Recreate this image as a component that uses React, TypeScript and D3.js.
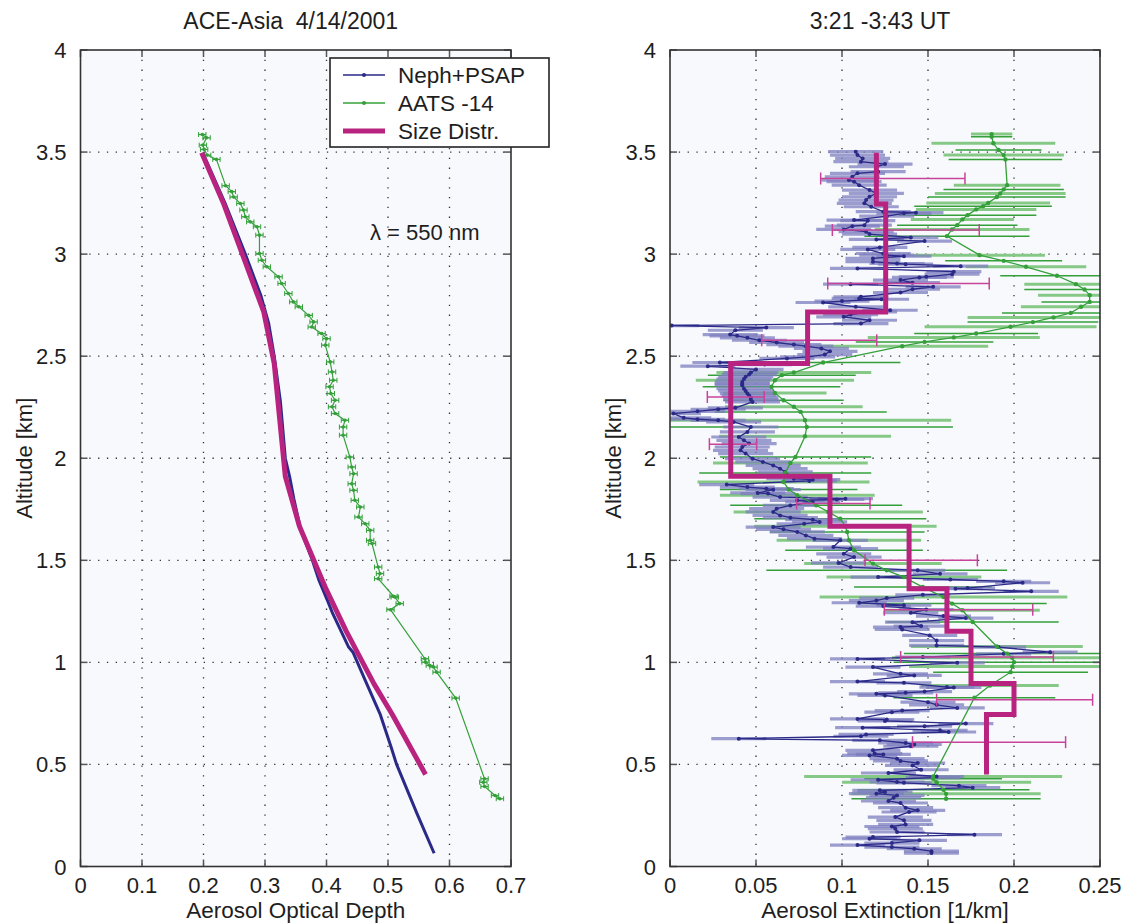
import React from "react";
import * as d3 from "d3";

// ---------- text ----------
const titleLeft = "ACE-Asia  4/14/2001";
const titleRight = "3:21 -3:43 UT";
const xLabelLeft = "Aerosol Optical Depth";
const xLabelRight = "Aerosol Extinction [1/km]";
const yLabel = "Altitude [km]";
const legendNames = ["Neph+PSAP", "AATS -14", "Size Distr."];
const wavelengthNote = "λ = 550 nm";

// ---------- ticks ----------
const aodTicks = [0, 0.1, 0.2, 0.3, 0.4, 0.5, 0.6, 0.7];
const extTicks = [0, 0.05, 0.1, 0.15, 0.2, 0.25];
const altTicks = [0, 0.5, 1, 1.5, 2, 2.5, 3, 3.5, 4];

// ---------- left panel: [altitude km, AOD] ----------
const nephAod: [number, number][] = [
  [3.495, 0.199], [3.25, 0.235], [3.0, 0.268], [2.8, 0.293], [2.66, 0.306], [2.5, 0.315],
  [2.28, 0.325], [2.0, 0.333], [1.91, 0.340], [1.8, 0.347], [1.65, 0.358], [1.5, 0.377],
  [1.4, 0.388], [1.3, 0.402], [1.24, 0.41], [1.075, 0.436], [1.05, 0.443], [0.912, 0.463],
  [0.748, 0.487], [0.585, 0.505], [0.5, 0.514], [0.26, 0.547], [0.065, 0.575],
];
const aatsAod: [number, number][] = [
  [3.586, 0.198], [3.57, 0.205], [3.534, 0.199], [3.513, 0.201], [3.485, 0.206], [3.464, 0.221],
  [3.335, 0.236], [3.306, 0.246], [3.28, 0.249], [3.248, 0.26], [3.216, 0.265], [3.183, 0.268],
  [3.158, 0.276], [3.134, 0.287], [3.093, 0.291], [3.003, 0.291], [2.97, 0.295], [2.938, 0.303],
  [2.889, 0.322], [2.856, 0.327], [2.807, 0.338], [2.766, 0.346], [2.742, 0.355], [2.7, 0.371],
  [2.668, 0.379], [2.643, 0.376], [2.611, 0.392], [2.586, 0.4], [2.554, 0.398], [2.472, 0.406],
  [2.423, 0.409], [2.382, 0.411], [2.35, 0.405], [2.317, 0.407], [2.284, 0.414], [2.252, 0.409],
  [2.219, 0.414], [2.186, 0.43], [2.153, 0.427], [2.113, 0.427], [2.006, 0.438], [1.957, 0.441],
  [1.924, 0.444], [1.875, 0.441], [1.843, 0.444], [1.794, 0.446], [1.761, 0.455], [1.712, 0.452],
  [1.679, 0.463], [1.647, 0.471], [1.598, 0.471], [1.582, 0.474], [1.467, 0.484], [1.435, 0.487],
  [1.41, 0.484], [1.324, 0.509], [1.32, 0.511], [1.288, 0.519], [1.258, 0.504], [1.018, 0.56],
  [1.001, 0.561], [0.985, 0.568], [0.977, 0.574], [0.952, 0.579], [0.825, 0.61], [0.43, 0.657],
  [0.413, 0.655], [0.392, 0.657], [0.348, 0.674], [0.332, 0.682],
];
const aatsAodErr = 0.006;
const sizeAod: [number, number][] = [
  [3.497, 0.197], [3.245, 0.233], [2.717, 0.298], [2.464, 0.315], [1.912, 0.333], [1.667, 0.356],
  [1.361, 0.399], [1.153, 0.432], [0.896, 0.477], [0.745, 0.507], [0.451, 0.561],
];

// ---------- right panel: [altitude km, extinction 1/km] ----------
const nephExt: [number, number][] = [
  [3.502, 0.108], [3.485, 0.109], [3.469, 0.112], [3.453, 0.111], [3.441, 0.125], [3.428, 0.12],
  [3.404, 0.121], [3.396, 0.109], [3.379, 0.106], [3.363, 0.104], [3.355, 0.107], [3.338, 0.11],
  [3.314, 0.116], [3.298, 0.12], [3.281, 0.116], [3.265, 0.114], [3.249, 0.113], [3.232, 0.117],
  [3.208, 0.124], [3.203, 0.143], [3.2, 0.136], [3.186, 0.126], [3.167, 0.107], [3.164, 0.115],
  [3.142, 0.113], [3.137, 0.106], [3.121, 0.101], [3.11, 0.114], [3.098, 0.116], [3.082, 0.14],
  [3.072, 0.12], [3.064, 0.148], [3.033, 0.122], [3.023, 0.115], [3.003, 0.124], [2.995, 0.126],
  [2.99, 0.136], [2.979, 0.118], [2.963, 0.118], [2.954, 0.132], [2.951, 0.137], [2.941, 0.169],
  [2.93, 0.109], [2.914, 0.165], [2.902, 0.164], [2.889, 0.149], [2.886, 0.145], [2.873, 0.134],
  [2.86, 0.141], [2.853, 0.105], [2.84, 0.153], [2.828, 0.141], [2.812, 0.134], [2.791, 0.111],
  [2.783, 0.11], [2.779, 0.123], [2.77, 0.1], [2.763, 0.089], [2.742, 0.108], [2.725, 0.128],
  [2.717, 0.116], [2.704, 0.105], [2.693, 0.101], [2.676, 0.116], [2.66, 0.111], [2.65, 0.001],
  [2.64, 0.056], [2.627, 0.038], [2.606, 0.035], [2.6, 0.039], [2.59, 0.045], [2.578, 0.052],
  [2.567, 0.062], [2.557, 0.072], [2.549, 0.079], [2.538, 0.088], [2.524, 0.093], [2.508, 0.09],
  [2.497, 0.08], [2.489, 0.068], [2.469, 0.029], [2.459, 0.055], [2.451, 0.022], [2.435, 0.05],
  [2.42, 0.047], [2.41, 0.046], [2.399, 0.044], [2.388, 0.043], [2.374, 0.042], [2.365, 0.042],
  [2.358, 0.042], [2.341, 0.043], [2.33, 0.044], [2.317, 0.045], [2.307, 0.046], [2.296, 0.047],
  [2.286, 0.047], [2.276, 0.048], [2.247, 0.038], [2.24, 0.028], [2.23, 0.016], [2.219, 0.002],
  [2.198, 0.008], [2.191, 0.016], [2.186, 0.028], [2.178, 0.037], [2.153, 0.047], [2.129, 0.045],
  [2.104, 0.04], [2.088, 0.043], [2.072, 0.046], [2.055, 0.042], [2.039, 0.041], [2.023, 0.044],
  [1.998, 0.048], [1.982, 0.054], [1.965, 0.06], [1.949, 0.064], [1.933, 0.067], [1.9, 0.072],
  [1.895, 0.083], [1.889, 0.081], [1.871, 0.033], [1.859, 0.045], [1.851, 0.056], [1.846, 0.06],
  [1.83, 0.051], [1.827, 0.057], [1.81, 0.064], [1.802, 0.102], [1.798, 0.097], [1.794, 0.074],
  [1.786, 0.083], [1.769, 0.07], [1.753, 0.062], [1.737, 0.06], [1.72, 0.064], [1.709, 0.07],
  [1.699, 0.083], [1.688, 0.087], [1.679, 0.078], [1.663, 0.06], [1.652, 0.066], [1.639, 0.074],
  [1.622, 0.079], [1.606, 0.084], [1.598, 0.099], [1.565, 0.095], [1.557, 0.105], [1.532, 0.101],
  [1.516, 0.107], [1.487, 0.098], [1.467, 0.105], [1.451, 0.144], [1.434, 0.157], [1.418, 0.121],
  [1.406, 0.163], [1.397, 0.194], [1.39, 0.205], [1.364, 0.173], [1.361, 0.166], [1.348, 0.21],
  [1.331, 0.147], [1.315, 0.126], [1.303, 0.12], [1.292, 0.11], [1.28, 0.136], [1.276, 0.124],
  [1.259, 0.149], [1.243, 0.14], [1.227, 0.159], [1.217, 0.172], [1.197, 0.141], [1.178, 0.146],
  [1.173, 0.134], [1.161, 0.135], [1.132, 0.151], [1.107, 0.155], [1.083, 0.155], [1.075, 0.191],
  [1.05, 0.221], [1.042, 0.194], [1.026, 0.147], [1.017, 0.109], [0.998, 0.167], [0.977, 0.118],
  [0.944, 0.134], [0.936, 0.142], [0.906, 0.109], [0.9, 0.136], [0.879, 0.161], [0.877, 0.165],
  [0.857, 0.148], [0.851, 0.137], [0.846, 0.12], [0.838, 0.125], [0.805, 0.15], [0.792, 0.155],
  [0.777, 0.167], [0.764, 0.135], [0.756, 0.129], [0.723, 0.109], [0.72, 0.126], [0.713, 0.125],
  [0.7, 0.172], [0.687, 0.148], [0.68, 0.112], [0.667, 0.157], [0.659, 0.162], [0.647, 0.114],
  [0.638, 0.111], [0.626, 0.04], [0.618, 0.122], [0.605, 0.137], [0.598, 0.142], [0.589, 0.14],
  [0.569, 0.118], [0.553, 0.119], [0.549, 0.124], [0.544, 0.116], [0.528, 0.132], [0.517, 0.134],
  [0.507, 0.144], [0.495, 0.141], [0.474, 0.146], [0.458, 0.127], [0.441, 0.155], [0.435, 0.153],
  [0.425, 0.121], [0.414, 0.132], [0.41, 0.136], [0.396, 0.168], [0.386, 0.176], [0.373, 0.122],
  [0.365, 0.125], [0.357, 0.12], [0.348, 0.132], [0.337, 0.13], [0.321, 0.127], [0.311, 0.134],
  [0.288, 0.137], [0.275, 0.144], [0.267, 0.139], [0.242, 0.131], [0.226, 0.136], [0.206, 0.137],
  [0.196, 0.129], [0.185, 0.131], [0.169, 0.132], [0.156, 0.177], [0.144, 0.118], [0.136, 0.116],
  [0.128, 0.145], [0.115, 0.129], [0.105, 0.109], [0.095, 0.129], [0.087, 0.142], [0.075, 0.152],
  [0.066, 0.152],
];
const nephExtErr = 0.016;

// [altitude km, extinction, error half-width]
const aatsExt: [number, number, number][] = [
  [3.588, 0.187, 0.012], [3.575, 0.187, 0.012], [3.543, 0.188, 0.036], [3.51, 0.191, 0.025],
  [3.485, 0.194, 0.035], [3.464, 0.195, 0.033], [3.338, 0.196, 0.031], [3.317, 0.194, 0.035],
  [3.297, 0.192, 0.038], [3.28, 0.19, 0.04], [3.251, 0.185, 0.036], [3.235, 0.182, 0.04],
  [3.219, 0.178, 0.035], [3.191, 0.173, 0.04], [3.17, 0.17, 0.03], [3.142, 0.167, 0.035],
  [3.121, 0.164, 0.045], [3.088, 0.161, 0.048], [2.995, 0.18, 0.038], [2.967, 0.194, 0.034],
  [2.938, 0.207, 0.035], [2.894, 0.225, 0.033], [2.853, 0.236, 0.03], [2.827, 0.241, 0.035],
  [2.799, 0.244, 0.03], [2.766, 0.244, 0.028], [2.742, 0.239, 0.035], [2.712, 0.233, 0.04],
  [2.69, 0.223, 0.05], [2.667, 0.211, 0.038], [2.644, 0.198, 0.05], [2.611, 0.178, 0.036],
  [2.592, 0.165, 0.05], [2.57, 0.148, 0.04], [2.549, 0.135, 0.05], [2.469, 0.089, 0.045],
  [2.42, 0.072, 0.045], [2.407, 0.065, 0.043], [2.382, 0.061, 0.046], [2.35, 0.059, 0.04],
  [2.32, 0.061, 0.03], [2.284, 0.066, 0.035], [2.252, 0.072, 0.04], [2.227, 0.076, 0.05],
  [2.186, 0.0785, 0.085], [2.153, 0.0795, 0.085], [2.108, 0.0785, 0.05], [2.006, 0.073, 0.044],
  [1.977, 0.07, 0.045], [1.928, 0.067, 0.05], [1.884, 0.066, 0.05], [1.847, 0.069, 0.04],
  [1.819, 0.074, 0.045], [1.77, 0.085, 0.05], [1.737, 0.092, 0.055], [1.704, 0.099, 0.05],
  [1.667, 0.102, 0.053], [1.639, 0.103, 0.045], [1.598, 0.104, 0.042], [1.549, 0.107, 0.04],
  [1.484, 0.118, 0.04], [1.451, 0.126, 0.07], [1.418, 0.136, 0.045], [1.369, 0.147, 0.04],
  [1.32, 0.159, 0.072], [1.288, 0.164, 0.055], [1.255, 0.17, 0.045], [1.198, 0.176, 0.05],
  [1.078, 0.19, 0.05], [1.043, 0.196, 0.06], [1.023, 0.199, 0.07], [1.001, 0.2, 0.07],
  [0.98, 0.199, 0.06], [0.952, 0.198, 0.045], [0.887, 0.186, 0.04], [0.827, 0.177, 0.047],
  [0.441, 0.153, 0.075], [0.43, 0.153, 0.04], [0.413, 0.155, 0.055], [0.376, 0.159, 0.05],
  [0.356, 0.1605, 0.055], [0.332, 0.1605, 0.055],
];

// size distribution layers: boundaries (km, top to bottom) and extinction per layer
const sizeLayerBounds = [3.497, 3.245, 2.717, 2.464, 1.912, 1.667, 1.361, 1.153, 0.896, 0.745, 0.451];
const sizeLayerExt = [0.12, 0.1254, 0.08, 0.0353, 0.093, 0.139, 0.161, 0.175, 0.2, 0.184];
// [altitude, low, high]
const sizeErrBars: [number, number, number][] = [
  [3.371, 0.0876, 0.1715], [3.118, 0.0944, 0.1798], [2.856, 0.0917, 0.1856], [2.578, 0.0533, 0.1202],
  [2.3, 0.0217, 0.0548], [2.069, 0.0229, 0.0504], [1.778, 0.0736, 0.1163], [1.5, 0.1134, 0.1787],
  [1.258, 0.1246, 0.2109], [1.026, 0.1341, 0.2229], [0.817, 0.155, 0.2457], [0.609, 0.141, 0.23],
];

// ---------- styling ----------
const W = 1125;
const H = 924;
const FONT = "'Liberation Sans', Arial, Helvetica, sans-serif";
const NAVY = "#2b2a88";
const LAVENDER = "#7d7dbf";
const GREEN = "#35a03a";
const LIGHTGREEN = "#86c986";
const MAGENTA = "#b8237f";
const MAGENTA_ERR = "#c8439a";
const PLOT_BG = "#f8f9fd";
const TEXT = "#1e1e1e";
const TOP = 50;
const BOTTOM = 866.5;

const yScale = d3.scaleLinear().domain([0, 4]).range([BOTTOM, TOP]);
const xL = d3.scaleLinear().domain([0, 0.7]).range([80.5, 511]);
const xR = d3.scaleLinear().domain([0, 0.25]).range([670, 1100]);

const fmt = (v: number) => String(v);

function Frame({ x, ticks, title, xLabel }: { x: d3.ScaleLinear<number, number>; ticks: number[]; title: string; xLabel: string }) {
  const [x0, x1] = x.range();
  const cx = (x0 + x1) / 2;
  return (
    <g>
      <rect x={x0} y={TOP} width={x1 - x0} height={BOTTOM - TOP} fill={PLOT_BG} />
      {ticks.slice(1, -1).map((t) => (
        <line key={"gx" + t} x1={x(t)} x2={x(t)} y1={TOP} y2={BOTTOM} stroke="#333" strokeWidth={1.3} strokeDasharray="1.3 8.5" />
      ))}
      {altTicks.slice(1, -1).map((t) => (
        <line key={"gy" + t} x1={x0} x2={x1} y1={yScale(t)} y2={yScale(t)} stroke="#333" strokeWidth={1.3} strokeDasharray="1.3 7.5" />
      ))}
      <text x={cx - 5} y={29} textAnchor="middle" fontSize={23} fontFamily={FONT} fill={TEXT} style={{ whiteSpace: "pre" }}>{title}</text>
      <text x={cx} y={918} textAnchor="middle" fontSize={22.5} fontFamily={FONT} fill={TEXT}>{xLabel}</text>
      <text transform={`translate(${x0 - 49},${(TOP + BOTTOM) / 2}) rotate(-90)`} textAnchor="middle" fontSize={22} fontFamily={FONT} fill={TEXT}>{yLabel}</text>
      {ticks.map((t) => (
        <text key={"lx" + t} x={x(t)} y={893} textAnchor="middle" fontSize={22} fontFamily={FONT} fill={TEXT}>{fmt(t)}</text>
      ))}
      {altTicks.map((t) => (
        <text key={"ly" + t} x={x0 - 14} y={yScale(t) + 8} textAnchor="end" fontSize={22} fontFamily={FONT} fill={TEXT}>{fmt(t)}</text>
      ))}
    </g>
  );
}

function Box({ x, ticks }: { x: d3.ScaleLinear<number, number>; ticks: number[] }) {
  const [x0, x1] = x.range();
  const tl = 7;
  return (
    <g>
      {ticks.map((t) => (
        <g key={"tx" + t}>
          <line x1={x(t)} x2={x(t)} y1={BOTTOM} y2={BOTTOM - tl} stroke="#555" strokeWidth={1.5} />
          <line x1={x(t)} x2={x(t)} y1={TOP} y2={TOP + tl} stroke="#555" strokeWidth={1.5} />
        </g>
      ))}
      {altTicks.map((t) => (
        <g key={"ty" + t}>
          <line x1={x0} x2={x0 + tl} y1={yScale(t)} y2={yScale(t)} stroke="#555" strokeWidth={1.5} />
          <line x1={x1} x2={x1 - tl} y1={yScale(t)} y2={yScale(t)} stroke="#555" strokeWidth={1.5} />
        </g>
      ))}
      <rect x={x0} y={TOP} width={x1 - x0} height={BOTTOM - TOP} fill="none" stroke="#333" strokeWidth={1.6} />
    </g>
  );
}

export default function App() {
  const lineL = d3.line<[number, number]>().x((d) => xL(d[1])).y((d) => yScale(d[0]));
  const lineR = d3.line<[number, number]>().x((d) => xR(d[1])).y((d) => yScale(d[0]));
  const stepPts: [number, number][] = [];
  sizeLayerExt.forEach((v, i) => {
    stepPts.push([sizeLayerBounds[i], v]);
    stepPts.push([sizeLayerBounds[i + 1], v]);
  });
  const aatsLine = aatsExt.map((d) => [d[0], d[1]] as [number, number]);
  const [r0, r1] = xR.range();

  return (
    <svg width={W} height={H} style={{ position: "absolute", left: 0, top: 0, background: "#fff" }}>
      <defs>
        <clipPath id="clipR">
          <rect x={r0} y={TOP} width={r1 - r0} height={BOTTOM - TOP} />
        </clipPath>
      </defs>

      {/* LEFT PANEL */}
      <Frame x={xL} ticks={aodTicks} title={titleLeft} xLabel={xLabelLeft} />
      <g>
        <path d={lineL(aatsAod) || ""} fill="none" stroke={GREEN} strokeWidth={1.2} />
        {aatsAod.map((d, i) => (
          <g key={"la" + i}>
            <line x1={xL(d[1] - aatsAodErr)} x2={xL(d[1] + aatsAodErr)} y1={yScale(d[0])} y2={yScale(d[0])} stroke={GREEN} strokeWidth={1.3} />
            <line x1={xL(d[1] - aatsAodErr)} x2={xL(d[1] - aatsAodErr)} y1={yScale(d[0]) - 2.5} y2={yScale(d[0]) + 2.5} stroke={GREEN} strokeWidth={1} />
            <line x1={xL(d[1] + aatsAodErr)} x2={xL(d[1] + aatsAodErr)} y1={yScale(d[0]) - 2.5} y2={yScale(d[0]) + 2.5} stroke={GREEN} strokeWidth={1} />
            <circle cx={xL(d[1])} cy={yScale(d[0])} r={1.8} fill={GREEN} />
          </g>
        ))}
        <path d={lineL(nephAod) || ""} fill="none" stroke={NAVY} strokeWidth={3} strokeLinejoin="round" />
        <path d={lineL(sizeAod) || ""} fill="none" stroke={MAGENTA} strokeWidth={5} strokeLinejoin="round" />
      </g>
      <Box x={xL} ticks={aodTicks} />
      <text x={370} y={240} fontSize={22} fontFamily={FONT} fill={TEXT}>{wavelengthNote}</text>

      {/* legend */}
      <g>
        <rect x={330} y={58} width={219} height={89} fill="#fff" stroke="#222" strokeWidth={1.6} />
        {legendNames.map((n, i) => {
          const ly = 75 + i * 28;
          const col = i === 0 ? NAVY : i === 1 ? GREEN : MAGENTA;
          return (
            <g key={n}>
              <line x1={343} x2={385} y1={ly} y2={ly} stroke={col} strokeWidth={i === 2 ? 5 : 1.3} />
              {i < 2 && <circle cx={364} cy={ly} r={2} fill={col} />}
              <text x={398} y={ly + 8} fontSize={22.5} fontFamily={FONT} fill={TEXT}>{n}</text>
            </g>
          );
        })}
      </g>

      {/* RIGHT PANEL */}
      <Frame x={xR} ticks={extTicks} title={titleRight} xLabel={xLabelRight} />
      <g clipPath="url(#clipR)">
        {aatsExt.map((d, i) => (
          <line key={"ge" + i} x1={xR(d[1] - d[2])} x2={xR(d[1] + d[2])} y1={yScale(d[0])} y2={yScale(d[0])}
            stroke={i % 2 === 0 ? LIGHTGREEN : GREEN} strokeWidth={i % 2 === 0 ? 3 : 1.5} />
        ))}
        {nephExt.map((d, i) => (
          <line key={"ne" + i} x1={xR(d[1] - nephExtErr)} x2={xR(d[1] + nephExtErr)} y1={yScale(d[0])} y2={yScale(d[0])}
            stroke={LAVENDER} strokeOpacity={0.75} strokeWidth={3.2} />
        ))}
        <path d={lineR(nephExt) || ""} fill="none" stroke={NAVY} strokeWidth={1.3} />
        {nephExt.map((d, i) => (
          <circle key={"nd" + i} cx={xR(d[1])} cy={yScale(d[0])} r={2} fill={NAVY} />
        ))}
        <path d={lineR(aatsLine) || ""} fill="none" stroke={GREEN} strokeWidth={1.3} />
        {aatsExt.map((d, i) => (
          <circle key={"gd" + i} cx={xR(d[1])} cy={yScale(d[0])} r={2.2} fill={GREEN} />
        ))}
        {sizeErrBars.map((d, i) => (
          <g key={"se" + i}>
            <line x1={xR(d[1])} x2={xR(d[2])} y1={yScale(d[0])} y2={yScale(d[0])} stroke={MAGENTA_ERR} strokeWidth={1.5} />
            <line x1={xR(d[1])} x2={xR(d[1])} y1={yScale(d[0]) - 6} y2={yScale(d[0]) + 6} stroke={MAGENTA_ERR} strokeWidth={1.5} />
            <line x1={xR(d[2])} x2={xR(d[2])} y1={yScale(d[0]) - 6} y2={yScale(d[0]) + 6} stroke={MAGENTA_ERR} strokeWidth={1.5} />
          </g>
        ))}
        <path d={lineR(stepPts) || ""} fill="none" stroke={MAGENTA} strokeWidth={5} strokeLinejoin="miter" />
      </g>
      <Box x={xR} ticks={extTicks} />
    </svg>
  );
}
